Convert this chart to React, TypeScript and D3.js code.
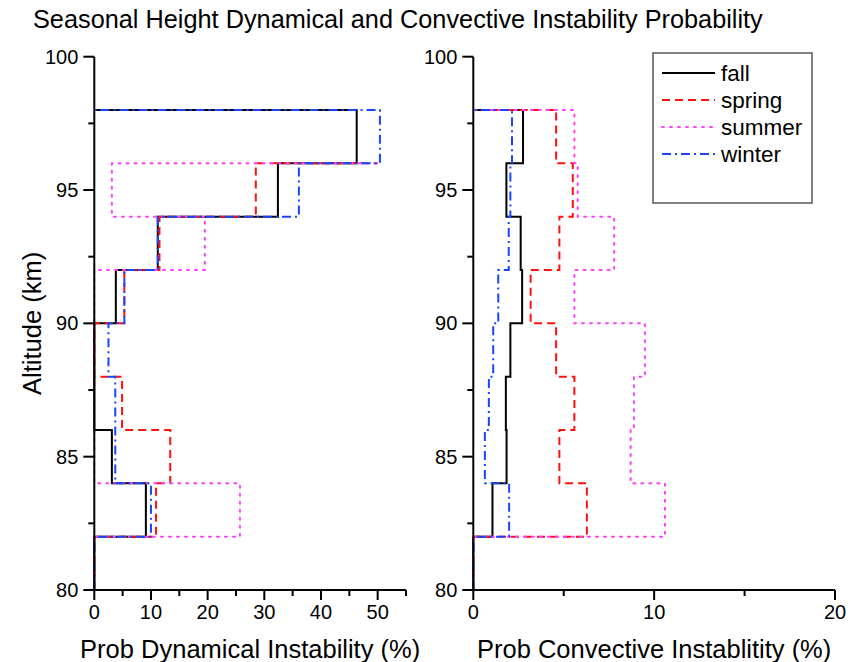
import React from 'react';
import * as d3 from 'd3';

// altitude (km) of each step point, bin [a, a+2]
const altitudes = [80, 82, 84, 86, 88, 90, 92, 94, 96, 98];
const seasons = ['fall', 'spring', 'summer', 'winter'];

// dynamical instability (%) - spring/summer have no closing point at 98
const dynFall = [0, 9.1, 3.1, 0, 0, 3.8, 11.2, 32.4, 46.3, 0];
const dynSpring = [0, 10.9, 13.4, 4.9, 0, 5.3, 11.5, 28.5, 50.0];
const dynSummer = [0, 25.7, 0, 0, 0, 0, 19.5, 3.1, 50.4];
const dynWinter = [0, 10.0, 3.7, 3.7, 2.5, 5.3, 11.2, 36.1, 50.4, 0];

// convective instability (%)
const convFall = [0, 1.06, 1.84, 1.8, 2.05, 2.7, 2.62, 1.83, 2.75, 0];
const convSpring = [0, 6.28, 4.76, 5.59, 4.58, 3.17, 4.76, 5.5, 4.58, 0];
const convSummer = [0, 10.6, 8.7, 8.88, 9.49, 5.59, 7.79, 5.77, 5.59, 0];
const convWinter = [0, 1.98, 0.64, 0.86, 1.1, 1.38, 1.96, 2.05, 2.14, 0];

const yTicks = [80, 85, 90, 95, 100];
const yMinor = [82.5, 87.5, 92.5, 97.5];
const dynTicks = [0, 10, 20, 30, 40, 50];
const dynMinor = [5, 15, 25, 35, 45, 55];
const convTicks = [0, 10, 20];
const convMinor = [5, 15];

const styles: Record<string, { color: string; dash: string }> = {
  fall: { color: '#000000', dash: '' },
  spring: { color: '#ff1010', dash: '8,5' },
  summer: { color: '#ff40ff', dash: '2,6' },
  winter: { color: '#1846ff', dash: '9,4,2,4' },
};

const font = '"Liberation Sans", Arial, sans-serif';
const W = 852, H = 662;
const top = 56.7, bottom = 590;

const y = d3.scaleLinear().domain([80, 100]).range([bottom, top]);

type PanelProps = {
  x: d3.ScaleLinear<number, number>;
  ticks: number[];
  minor: number[];
  series: number[][];
  label: string;
};

const Panel = ({ x, ticks, minor, series, label }: PanelProps) => {
  const x0 = x.range()[0], x1 = x.range()[1];
  const line = d3.line<number>()
    .x(d => x(d))
    .y((d, i) => y(altitudes[i]))
    .curve(d3.curveStepBefore);
  return (
    <g>
      {series.map((vals, i) => {
        const s = styles[seasons[i]];
        return (
          <path key={seasons[i]} d={line(vals) || ''} fill="none" stroke={s.color}
            strokeWidth={2} strokeDasharray={s.dash || undefined} strokeLinecap={seasons[i] === 'summer' ? 'round' : 'butt'} />
        );
      })}
      {/* axes */}
      <line x1={x0} x2={x0} y1={top} y2={bottom} stroke="#000" strokeWidth={2} />
      <line x1={x0} x2={x1} y1={bottom} y2={bottom} stroke="#000" strokeWidth={2} />
      {yTicks.map(t => (
        <g key={'y' + t}>
          <line x1={x0 - 11} x2={x0} y1={y(t)} y2={y(t)} stroke="#000" strokeWidth={2} />
          <text x={x0 - 16} y={y(t) + 7} textAnchor="end" fontSize={20} fontFamily={font}>{t}</text>
        </g>
      ))}
      {yMinor.map(t => (
        <line key={'ym' + t} x1={x0 - 6} x2={x0} y1={y(t)} y2={y(t)} stroke="#000" strokeWidth={2} />
      ))}
      {ticks.map(t => (
        <g key={'x' + t}>
          <line x1={x(t)} x2={x(t)} y1={bottom} y2={bottom + 10} stroke="#000" strokeWidth={2} />
          <text x={x(t)} y={bottom + 29} textAnchor="middle" fontSize={20} fontFamily={font}>{t}</text>
        </g>
      ))}
      {minor.map(t => (
        <line key={'xm' + t} x1={x(t)} x2={x(t)} y1={bottom} y2={bottom + 6} stroke="#000" strokeWidth={2} />
      ))}
      <text x={(x0 + x1) / 2} y={658} textAnchor="middle" fontSize={25.5} fontFamily={font}>{label}</text>
    </g>
  );
};

export default function App() {
  const xDyn = d3.scaleLinear().domain([0, 55]).range([94.3, 406]);
  const xConv = d3.scaleLinear().domain([0, 20]).range([473.3, 835]);
  const legendY = d3.scalePoint<string>().domain(seasons).range([73, 154]);
  return (
    <svg width={W} height={H} style={{ position: 'absolute', left: 0, top: 0, background: '#fff' }}>
      <rect width={W} height={H} fill="#fff" />
      <text x={33} y={28} fontSize={25.3} fontFamily={font}>Seasonal Height Dynamical and Convective Instability Probability</text>
      <text transform={`translate(41,${(top + bottom) / 2}) rotate(-90)`} textAnchor="middle" fontSize={25.5} fontFamily={font}>Altitude (km)</text>
      <Panel x={xDyn} ticks={dynTicks} minor={dynMinor} series={[dynFall, dynSpring, dynSummer, dynWinter]} label="Prob Dynamical Instability (%)" />
      <Panel x={xConv} ticks={convTicks} minor={convMinor} series={[convFall, convSpring, convSummer, convWinter]} label="Prob Convective Instablitity (%)" />
      {/* legend */}
      <rect x={653} y={53} width={159} height={150} fill="#fff" stroke="#555" strokeWidth={1.5} />
      {seasons.map(s => (
        <g key={s}>
          <line x1={662} x2={715} y1={legendY(s)} y2={legendY(s)} stroke={styles[s].color} strokeWidth={2}
            strokeDasharray={styles[s].dash || undefined} strokeLinecap={s === 'summer' ? 'round' : 'butt'} />
          <text x={721} y={(legendY(s) || 0) + 8} fontSize={22.5} fontFamily={font}>{s}</text>
        </g>
      ))}
    </svg>
  );
}
